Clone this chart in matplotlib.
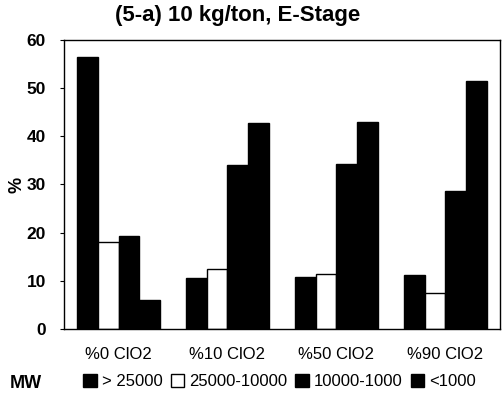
import matplotlib
matplotlib.use("Agg")
import matplotlib.pyplot as plt
import numpy as np

plt.rcParams['font.family'] = ['Liberation Sans', 'DejaVu Sans']

categories = ["%0 ClO2", "%10 ClO2", "%50 ClO2", "%90 ClO2"]
series_names = ["> 25000", "25000-10000", "10000-1000", "<1000"]
s_gt25000 = [56.5, 10.6, 10.8, 11.2]
s_25000_10000 = [18.0, 12.4, 11.4, 7.5]
s_10000_1000 = [19.3, 34.0, 34.2, 28.6]
s_lt1000 = [6.0, 42.7, 42.9, 51.4]
series = [s_gt25000, s_25000_10000, s_10000_1000, s_lt1000]
colors = ["black", "white", "black", "black"]

fig = plt.figure(figsize=(5.04, 4.01), dpi=100)
ax = fig.add_axes([0.127, 0.18, 0.865, 0.72])

x = np.arange(len(categories))
w = 0.19
for i, (vals, c) in enumerate(zip(series, colors)):
    ax.bar(x + (i - 1.5) * w, vals, width=w, color=c, edgecolor="black",
           linewidth=1.0, label=series_names[i])

ax.set_xlim(-0.5, 3.5)
ax.set_ylim(0, 60)
ax.set_yticks([0, 10, 20, 30, 40, 50, 60])
ax.set_xticks(x)
ax.set_xticklabels(categories, fontsize=12)
for lab in ax.get_yticklabels():
    lab.set_fontsize(12.5)
    lab.set_fontweight("bold")
ax.tick_params(axis='x', length=0, pad=13)
ax.tick_params(axis='y', length=3, direction='out', pad=10)
for sp in ax.spines.values():
    sp.set_linewidth(1.0)

fig.text(238 / 504, 1 - 16 / 401, "(5-a) 10 kg/ton, E-Stage", fontsize=16,
         fontweight="bold", ha="center", va="center")
fig.text(17 / 504, 1 - 185 / 401, "%", fontsize=13, fontweight="bold",
         rotation=90, ha="center", va="center")

leg = fig.legend(loc="center left", bbox_to_anchor=(0.152, 0.048), ncol=4,
                 frameon=False, fontsize=12, handlelength=0.8, handleheight=0.8,
                 handletextpad=0.3, columnspacing=0.5, borderaxespad=0)
fig.text(0.02, 0.043, "MW", fontsize=13, fontweight="bold", va="center")

fig.savefig("out.png", dpi=100)
